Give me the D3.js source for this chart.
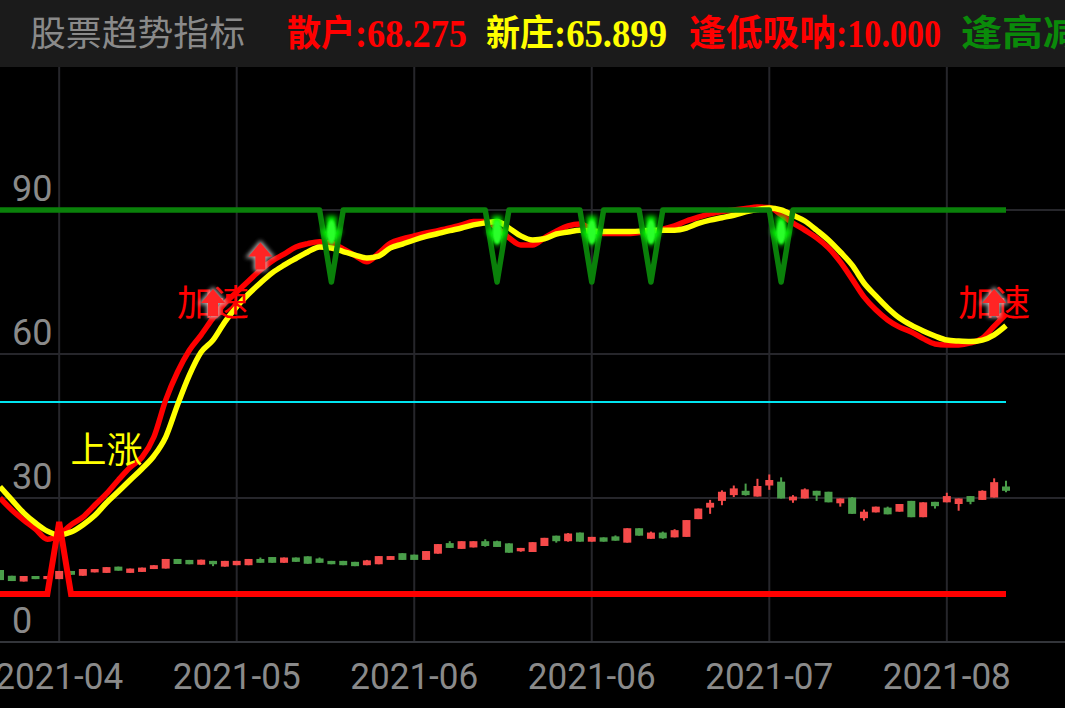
<!DOCTYPE html>
<html><head><meta charset="utf-8">
<script src="https://cdn.jsdelivr.net/npm/d3@7"></script>
<style>html,body{margin:0;padding:0;background:#000;overflow:hidden}</style>
</head><body>
<svg id="c" width="1065" height="708"></svg>
<script>
const title = "股票趋势指标";
const legendNames = ["散户", "新庄", "逢低吸呐", "逢高减仓"];
const legendValues = ["68.275", "65.899", "10.000", "90.000"];
const xTickIndex = [5, 20, 35, 50, 65, 80];
const xTickLabels = ["2021-04", "2021-05", "2021-06", "2021-06", "2021-07", "2021-08"];
const yTicks = [0, 30, 60, 90];

const open  = [15.0,13.8,12.6,13.75,13.1,13.1,14.8,13.8,14.5,14.4,15.7,14.4,14.6,15.2,15.3,17.3,17.1,16.1,16.9,15.7,16.0,16.0,17.3,17.7,16.5,17.6,17.85,17.4,16.9,16.9,16.7,16.0,16.2,17.1,18.5,18.2,17.1,18.4,20.6,19.4,19.7,21.0,21.0,20.55,18.9,18.75,20.0,22.15,21.0,22.8,20.9,21.8,22.0,20.7,23.7,21.5,22.8,21.8,21.9,25.6,28.0,29.4,30.6,31.5,30.3,32.6,33.4,29.5,29.9,31.5,31.3,28.9,30.1,25.8,27.0,28.0,27.15,29.4,26.0,29.2,29.1,28.75,30.4,29.6,30.1,32.4];
const close = [12.9,12.7,13.75,13.1,13.75,14.8,14.0,15.2,15.2,15.6,14.85,15.3,15.5,16.0,17.3,16.25,16.2,17.15,16.2,16.9,16.9,17.3,16.5,16.5,17.6,16.7,16.3,16.5,16.2,16.0,15.8,17.0,17.9,17.9,17.1,17.1,18.95,20.4,19.6,21.0,21.0,20.0,19.8,18.6,19.6,20.8,21.7,21.0,22.6,20.9,21.9,20.9,21.1,23.7,22.15,22.8,21.6,23.3,25.4,27.8,29.0,31.3,32.0,30.6,32.5,33.75,29.9,30.3,31.8,30.5,29.1,29.9,26.7,27.15,28.2,26.6,28.75,26.0,29.1,28.3,30.4,29.9,29.2,31.5,33.3,31.5];
const high  = [15.0,13.8,13.75,13.75,13.75,14.8,14.8,15.2,15.2,15.6,15.7,15.3,15.5,16.0,17.3,17.3,17.1,17.15,16.9,16.9,16.9,17.3,17.6,17.7,17.6,17.6,17.85,17.6,16.9,16.9,16.7,17.1,17.9,17.9,18.5,18.2,18.95,20.4,21.0,21.0,21.0,21.4,21.1,20.55,19.6,20.8,21.7,22.15,22.7,22.8,21.9,21.8,22.2,23.7,23.7,23.0,23.0,23.5,25.4,27.8,29.6,31.6,32.6,33.0,34.0,34.9,34.3,30.6,32.0,31.5,31.3,29.9,30.2,27.6,28.2,28.2,28.75,29.4,29.1,29.2,31.1,29.9,30.4,31.6,34.1,33.6];
const low   = [12.9,12.7,12.6,13.1,13.1,13.1,14.0,13.8,14.5,14.4,14.85,14.4,14.6,15.2,15.3,16.25,16.2,16.1,15.8,15.7,16.0,16.0,16.5,16.5,16.5,16.7,16.3,16.5,16.2,16.0,15.8,16.0,16.2,17.1,17.1,17.1,17.1,18.4,19.6,19.4,19.7,19.85,19.8,18.6,18.8,18.75,20.0,20.7,20.9,20.9,20.9,20.9,21.1,20.7,22.15,21.5,21.5,21.8,21.9,25.6,26.7,28.5,30.2,30.5,30.3,31.7,29.9,29.0,29.9,29.4,29.1,28.2,26.7,25.3,27.0,26.6,27.15,26.0,26.0,27.8,29.1,27.35,28.7,29.6,30.1,31.2];

const sanhu = [30.0,27.5,25.4,23.5,21.4,22.3,24.4,26.0,28.5,30.9,33.75,36.4,38.5,42.7,50.4,56.25,60.8,64.0,67.5,70.6,72.9,75.2,77.5,79.4,80.8,82.3,83.0,83.4,83.1,81.9,80.5,79.2,81.0,83.1,84.0,84.6,85.2,85.7,86.25,86.9,87.6,87.6,86.25,84.2,82.7,82.7,84.2,85.6,86.7,87.1,86.0,85.1,85.1,85.1,85.3,85.5,86.0,86.7,87.7,88.5,89.2,89.7,90.0,90.3,90.6,90.5,89.0,87.3,85.8,84.2,82.1,79.2,75.6,71.9,69.2,67.1,65.6,64.6,63.2,62.1,61.9,61.9,62.3,63.3,65.8,68.275];
const xinzhuang = [32.35,29.6,26.9,24.8,23.1,22.3,22.9,24.4,26.35,29.0,31.35,33.75,36.1,38.75,42.7,49.4,55.6,60.4,62.9,66.7,69.85,72.5,74.8,76.9,78.5,79.9,81.25,82.3,82.1,81.35,80.6,80.0,80.4,82.1,82.9,83.75,84.5,85.1,85.7,86.25,86.9,87.3,87.6,86.25,84.6,83.75,84.0,85.0,85.4,85.8,85.6,85.5,85.5,85.5,85.6,85.8,85.8,85.8,86.25,87.2,87.9,88.4,88.9,89.6,90.1,90.4,90.0,88.9,87.7,85.8,83.75,81.25,78.5,74.8,72.1,69.6,67.5,66.0,64.8,63.75,62.9,62.7,62.6,62.9,64.0,65.899];
const lowBuyBase = 10, lowBuySpikeIdx = [5], lowBuySpikeVal = 25;
const highSellBase = 90, highSellDipIdx = [28, 42, 50, 55, 66], highSellDipVal = 75;
const sellMarkerValue = 85.2;
const accelIdx = [18, 22, 84];
const accelValue = [70.6, 80.3, 70.6];
const accelTextIdx = [0, 2];
const riseLabel = { text: "上涨", idx: 9, value: 40 };
const midLine = 50;

const n = open.length;
const lowBuy = d3.range(n).map(i => lowBuySpikeIdx.includes(i) ? lowBuySpikeVal : lowBuyBase);
const highSell = d3.range(n).map(i => highSellDipIdx.includes(i) ? highSellDipVal : highSellBase);

const W = 1065, H = 708, headerH = 67;
const x = d3.scaleLinear().domain([0, n - 1]).range([0, 1006]);
const y = d3.scaleLinear().domain([0, 90]).range([642, 210]);

const svg = d3.select("#c");
const defs = svg.append("defs");
const f1 = defs.append("filter").attr("id", "glowW").attr("x", "-50%").attr("y", "-50%").attr("width", "200%").attr("height", "200%");
f1.append("feGaussianBlur").attr("stdDeviation", 2.2);
const f2 = defs.append("filter").attr("id", "glowG").attr("x", "-80%").attr("y", "-50%").attr("width", "260%").attr("height", "200%");
f2.append("feGaussianBlur").attr("stdDeviation", 2.8);
const f3 = defs.append("filter").attr("id", "soft").attr("x", "-50%").attr("y", "-50%").attr("width", "200%").attr("height", "200%");
f3.append("feGaussianBlur").attr("stdDeviation", 1.0);

svg.append("rect").attr("width", W).attr("height", H).attr("fill", "#000");
// header
svg.append("rect").attr("width", W).attr("height", headerH).attr("fill", "#1b1b1b");
svg.append("text").attr("x", 30).attr("y", 46).attr("fill", "#8a8a8a")
  .attr("font-family", "'Noto Sans CJK SC'").attr("font-size", 35)
  .attr("textLength", 215).attr("lengthAdjust", "spacingAndGlyphs").text(title);
const legendColors = ["#ff0000", "#ffff00", "#ff0000", "#0a8a0a"];
const nameX = [287, 486, 689, 961], nameW = [68, 68, 147, 164];
const valX = [355, 554, 836, 1125], valW = [112, 113, 105, 104];
legendNames.forEach((nm, i) => {
  svg.append("text").attr("x", nameX[i]).attr("y", 46).attr("fill", legendColors[i])
    .attr("font-family", "'Noto Sans CJK SC'").attr("font-weight", "bold")
    .attr("font-size", 36).attr("textLength", nameW[i]).attr("lengthAdjust", "spacingAndGlyphs")
    .text(nm);
  svg.append("text").attr("x", valX[i]).attr("y", 47).attr("fill", legendColors[i])
    .attr("font-family", "'Liberation Serif'").attr("font-weight", "bold")
    .attr("font-size", 39).attr("textLength", valW[i]).attr("lengthAdjust", "spacingAndGlyphs")
    .text(":" + legendValues[i]);
});

// grid
const grid = svg.append("g");
grid.selectAll("line.v").data(xTickIndex).join("line")
  .attr("x1", d => x(d)).attr("x2", d => x(d)).attr("y1", headerH).attr("y2", y(0))
  .attr("stroke", "#26262b").attr("stroke-width", 2);
grid.selectAll("line.h").data(yTicks.filter(v => v > 0)).join("line")
  .attr("x1", 0).attr("x2", W).attr("y1", d => y(d)).attr("y2", d => y(d))
  .attr("stroke", "#26262b").attr("stroke-width", 2);
grid.append("line").attr("x1", 0).attr("x2", W).attr("y1", y(0)).attr("y2", y(0))
  .attr("stroke", "#33353a").attr("stroke-width", 2);

// axis labels
svg.selectAll("text.yl").data(yTicks).join("text").attr("class", "yl")
  .attr("x", 12).attr("y", d => y(d) - 9).attr("fill", "#8a8a8a")
  .attr("font-family", "Roboto").attr("font-size", 36).text(d => d);
svg.selectAll("text.xl").data(xTickIndex).join("text").attr("class", "xl")
  .attr("x", d => x(d)).attr("y", 689).attr("fill", "#8a8a8a").attr("text-anchor", "middle")
  .attr("font-family", "Roboto").attr("font-size", 36)
  .attr("textLength", 128).attr("lengthAdjust", "spacingAndGlyphs")
  .text((d, i) => xTickLabels[i]);

// candles
const cg = svg.append("g");
const up = i => close[i] >= open[i];
const candleColor = i => up(i) ? "#f54a4a" : "#4a9e4a";
cg.selectAll("line").data(d3.range(n)).join("line")
  .attr("x1", i => x(i)).attr("x2", i => x(i))
  .attr("y1", i => y(high[i])).attr("y2", i => y(low[i]))
  .attr("stroke", candleColor).attr("stroke-width", 2);
cg.selectAll("rect").data(d3.range(n)).join("rect")
  .attr("x", i => x(i) - 4).attr("width", 8)
  .attr("y", i => y(Math.max(open[i], close[i])))
  .attr("height", i => Math.max(2, Math.abs(y(open[i]) - y(close[i]))))
  .attr("fill", candleColor);

// mid cyan line
svg.append("line").attr("x1", x(0)).attr("x2", x(n - 1)).attr("y1", y(midLine)).attr("y2", y(midLine))
  .attr("stroke", "#00e5f0").attr("stroke-width", 2);

const smooth = d3.line().x((d, i) => x(i)).y(d => y(d)).curve(d3.curveMonotoneX);
const straight = d3.line().x((d, i) => x(i)).y(d => y(d));
svg.append("path").attr("d", smooth(sanhu)).attr("fill", "none").attr("stroke", "#ff0000")
  .attr("stroke-width", 5.5).attr("stroke-linejoin", "round");
svg.append("path").attr("d", smooth(xinzhuang)).attr("fill", "none").attr("stroke", "#ffff00")
  .attr("stroke-width", 5.5).attr("stroke-linejoin", "round");
svg.append("path").attr("d", straight(highSell)).attr("fill", "none").attr("stroke", "#0a800a")
  .attr("stroke-width", 5.5).attr("stroke-linejoin", "round");
svg.append("path").attr("d", straight(lowBuy)).attr("fill", "none").attr("stroke", "#ff0000")
  .attr("stroke-width", 6).attr("stroke-linejoin", "miter");

// green sell markers (glowing down arrows)
const downArrow = "M-5,-17 L5,-17 L5,-3 L11,-3 L0,14 L-11,-3 L-5,-3 Z";
const mg = svg.append("g");
highSellDipIdx.forEach(i => {
  const g = mg.append("g").attr("transform", `translate(${x(i)},${y(sellMarkerValue)})`);
  g.append("path").attr("d", downArrow).attr("fill", "#00ff00").attr("filter", "url(#glowG)").attr("opacity", 0.95);
  g.append("ellipse").attr("rx", 4.5).attr("ry", 12).attr("cy", -1).attr("fill", "#2bff2b").attr("filter", "url(#soft)");
});

// text labels
accelTextIdx.forEach(k => {
  const i = accelIdx[k];
  svg.append("text").attr("x", x(i)).attr("y", y(accelValue[k]) + 13).attr("text-anchor", "middle")
    .attr("fill", "#ff0000").attr("font-family", "'Noto Sans CJK SC'").attr("font-size", 36).text("加速");
});
svg.append("text").attr("x", x(riseLabel.idx)).attr("y", y(riseLabel.value) + 13).attr("text-anchor", "middle")
  .attr("fill", "#ffff00").attr("font-family", "'Noto Sans CJK SC'").attr("font-size", 36).text(riseLabel.text);

// red accelerate arrows
const upArrow = "M0,-14 L12,0 L5,0 L5,13 L-5,13 L-5,0 L-12,0 Z";
accelIdx.forEach((i, k) => {
  const g = svg.append("g").attr("transform", `translate(${x(i)},${y(accelValue[k])})`);
  g.append("path").attr("d", upArrow).attr("fill", "#d0d0d0").attr("stroke", "#d0d0d0").attr("stroke-width", 3).attr("filter", "url(#glowW)").attr("opacity", 0.85);
  g.append("path").attr("d", upArrow).attr("fill", "#ff2424");
});
</script>
</body></html>
